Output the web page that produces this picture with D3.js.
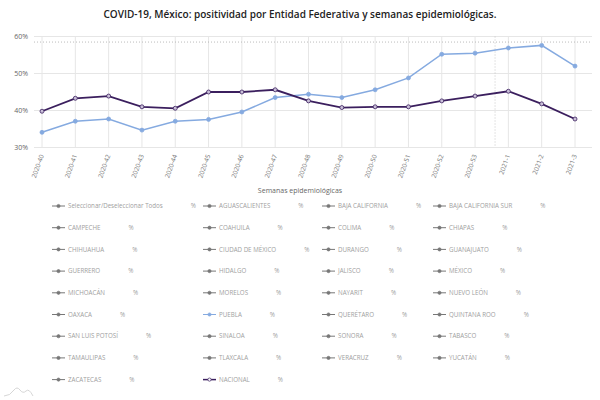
<!DOCTYPE html>
<html>
<head>
<meta charset="utf-8">
<script src="https://cdn.jsdelivr.net/npm/d3@7"></script>
<style>
  body { margin: 0; background: #fff; }
  svg { font-family: "Open Sans", Lato, sans-serif; }
</style>
</head>
<body>
<div id="chart"></div>
<script>
// weeks on the x axis
var weeks = ["2020-40", "2020-41", "2020-42", "2020-43", "2020-44", "2020-45", "2020-46",
  "2020-47", "2020-48", "2020-49", "2020-50", "2020-51", "2020-52", "2020-53",
  "2021-1", "2021-2", "2021-3"];

// positivity (%)
var nacional = [39.8, 43.3, 43.9, 41.0, 40.6, 45.0, 45.0, 45.6, 42.6, 40.8, 41.0, 41.0, 42.6, 43.9, 45.2, 41.8, 37.7];
var puebla = [34.1, 37.1, 37.7, 34.7, 37.1, 37.6, 39.6, 43.5, 44.4, 43.5, 45.6, 48.8, 55.2, 55.5, 56.9, 57.6, 52.0];

var yTicks = [30, 40, 50, 60];
var refValue = 58.5;

// legend entries, row by row
var legendNames = [
  "Seleccionar/Deseleccionar Todos", "AGUASCALIENTES", "BAJA CALIFORNIA", "BAJA CALIFORNIA SUR",
  "CAMPECHE", "COAHUILA", "COLIMA", "CHIAPAS",
  "CHIHUAHUA", "CIUDAD DE MÉXICO", "DURANGO", "GUANAJUATO",
  "GUERRERO", "HIDALGO", "JALISCO", "MÉXICO",
  "MICHOACÁN", "MORELOS", "NAYARIT", "NUEVO LEÓN",
  "OAXACA", "PUEBLA", "QUERÉTARO", "QUINTANA ROO",
  "SAN LUIS POTOSÍ", "SINALOA", "SONORA", "TABASCO",
  "TAMAULIPAS", "TLAXCALA", "VERACRUZ", "YUCATÁN",
  "ZACATECAS", "NACIONAL"
];

var svgWidth = 600;
var svgHeight = 400;

var colorNacional = "#3b1f5e";
var colorPuebla = "#85aae0";

var svg = d3.select("#chart")
  .append("svg")
  .attr("width", svgWidth)
  .attr("height", svgHeight);

// title
svg.append("text")
  .attr("x", 300)
  .attr("y", 18)
  .attr("text-anchor", "middle")
  .attr("font-size", 10)
  .attr("font-weight", 600)
  .attr("fill", "#222")
  .text("COVID-19, México: positividad por Entidad Federativa y semanas epidemiológicas.");

// scales
var plotLeft = 34, plotRight = 592, plotTop = 36.5, plotBottom = 147.5;

var x = d3.scalePoint()
  .domain(weeks)
  .range([42, 575]);

var y = d3.scaleLinear()
  .domain([30, 60])
  .range([plotBottom, plotTop]);

// horizontal grid + y labels
svg.append("g")
  .selectAll("line")
  .data(yTicks)
  .enter()
  .append("line")
  .attr("x1", plotLeft)
  .attr("x2", plotRight)
  .attr("y1", d => y(d))
  .attr("y2", d => y(d))
  .attr("stroke", "#e6e6e6")
  .attr("stroke-width", 1);

svg.append("g")
  .selectAll("text")
  .data(yTicks)
  .enter()
  .append("text")
  .attr("x", 28)
  .attr("y", d => y(d) + 2.5)
  .attr("text-anchor", "end")
  .attr("font-size", 7)
  .attr("fill", "#666")
  .text(d => d + "%");

// vertical grid
svg.append("g")
  .selectAll("line")
  .data(weeks)
  .enter()
  .append("line")
  .attr("x1", d => x(d))
  .attr("x2", d => x(d))
  .attr("y1", plotTop)
  .attr("y2", plotBottom)
  .attr("stroke", "#e6e6e6")
  .attr("stroke-width", 1);

// dotted reference lines
svg.append("line")
  .attr("x1", plotLeft)
  .attr("x2", plotRight)
  .attr("y1", y(refValue))
  .attr("y2", y(refValue))
  .attr("stroke", "#aaa")
  .attr("stroke-width", 0.8)
  .attr("stroke-dasharray", "1,2");

var yearX = x("2020-53") + 0.6 * x.step();
svg.append("line")
  .attr("x1", yearX)
  .attr("x2", yearX)
  .attr("y1", plotTop)
  .attr("y2", plotBottom)
  .attr("stroke", "#bbb")
  .attr("stroke-width", 0.8)
  .attr("stroke-dasharray", "1,2");

// x tick labels, rotated
svg.append("g")
  .selectAll("text")
  .data(weeks)
  .enter()
  .append("text")
  .attr("transform", d => `translate(${x(d) + 2}, ${plotBottom + 8}) rotate(-70)`)
  .attr("text-anchor", "end")
  .attr("font-size", 6.5)
  .attr("fill", "#777")
  .text(d => d);

// x axis title
svg.append("text")
  .attr("x", 300)
  .attr("y", 193)
  .attr("text-anchor", "middle")
  .attr("font-size", 7)
  .attr("fill", "#666")
  .text("Semanas epidemiológicas");

// series
var line = d3.line()
  .x((d, i) => x(weeks[i]))
  .y(d => y(d));

function drawSeries(values, color, width, markerFill) {
  svg.append("path")
    .datum(values)
    .attr("fill", "none")
    .attr("stroke", color)
    .attr("stroke-width", width)
    .attr("d", line);

  svg.append("g")
    .selectAll("circle")
    .data(values)
    .enter()
    .append("circle")
    .attr("cx", (d, i) => x(weeks[i]))
    .attr("cy", d => y(d))
    .attr("r", 2)
    .attr("fill", markerFill)
    .attr("stroke", color)
    .attr("stroke-width", 0.8);
}

drawSeries(puebla, colorPuebla, 1.5, colorPuebla);
drawSeries(nacional, colorNacional, 1.8, "#c9bfd8");

// legend
var colX = [52, 203, 322, 433];
var rowY0 = 206, rowStep = 21.7;

var legend = svg.append("g");

legendNames.forEach(function (name, i) {
  var col = i % 4;
  var row = Math.floor(i / 4);
  var lx = colX[col];
  var ly = rowY0 + row * rowStep;
  var color = name === "PUEBLA" ? colorPuebla : (name === "NACIONAL" ? colorNacional : "#777");
  var g = legend.append("g").attr("transform", `translate(${lx}, ${ly})`);

  g.append("line")
    .attr("x1", 0)
    .attr("x2", 13)
    .attr("y1", 0)
    .attr("y2", 0)
    .attr("stroke", color)
    .attr("stroke-width", name === "NACIONAL" ? 1.5 : 1);

  g.append("circle")
    .attr("cx", 6.5)
    .attr("cy", 0)
    .attr("r", 1.6)
    .attr("fill", name === "NACIONAL" ? "#fff" : color)
    .attr("stroke", color)
    .attr("stroke-width", 0.7);

  var label = g.append("text")
    .attr("x", 16)
    .attr("y", 2.2)
    .attr("font-size", 6.2)
    .attr("fill", "#a0a0a0")
    .text(name);

  var w = label.node().getComputedTextLength();
  g.append("text")
    .attr("x", 16 + w + 28)
    .attr("y", 2.2)
    .attr("font-size", 6.2)
    .attr("fill", "#a0a0a0")
    .text("%");
});

// small mark in the corner
svg.append("path")
  .attr("d", "M4,396 Q10,396 14,390 Q17,386 20,390 Q23,394 26,391 Q29,388 33,396")
  .attr("fill", "none")
  .attr("stroke", "#ccc")
  .attr("stroke-width", 0.8);
</script>
</body>
</html>
